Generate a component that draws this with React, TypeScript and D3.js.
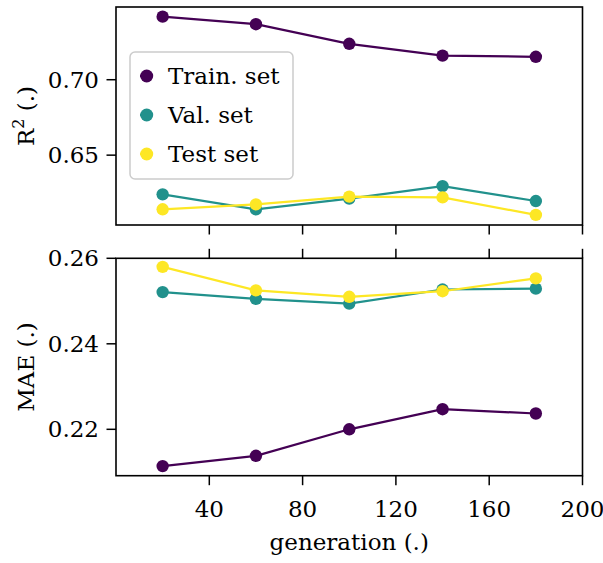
import React from "react";
import * as d3 from "d3";

const generations = [20, 60, 100, 140, 180];
const r2Train = [0.7418, 0.7368, 0.7238, 0.716, 0.7152];
const r2Val = [0.624, 0.6141, 0.6212, 0.6295, 0.6196];
const r2Test = [0.6141, 0.6174, 0.6225, 0.622, 0.6104];
const maeTrain = [0.2114, 0.2138, 0.22, 0.2247, 0.2237];
const maeVal = [0.2521, 0.2505, 0.2494, 0.2527, 0.2529];
const maeTest = [0.258, 0.2525, 0.251, 0.2523, 0.2553];
const xTicks = [40, 80, 120, 160, 200];
const r2Ticks = [0.65, 0.7];
const maeTicks = [0.22, 0.24, 0.26];
const seriesNames = ["Train. set", "Val. set", "Test set"];
const colors = ["#440154", "#21918c", "#fde725"];

const FONT = "DejaVu Serif";
const FS = 23;

export default function App() {
  const left = 116, right = 582.5;
  const top1 = 7, bot1 = 225;
  const top2 = 258.3, bot2 = 475.7;
  const x = d3.scaleLinear().domain([0, 200]).range([left, right]);
  const y1 = d3.scaleLinear().domain([0.6037, 0.7482]).range([bot1, top1]);
  const y2 = d3.scaleLinear().domain([0.20915, 0.26]).range([bot2, top2]);

  const drawSeries = (ys: number[][], y: d3.ScaleLinear<number, number>, key: string) =>
    ys.map((vals, i) => {
      const line = d3
        .line<number>()
        .x((_, j) => x(generations[j]))
        .y((d) => y(d));
      return (
        <g key={key + i}>
          <path d={line(vals) || ""} fill="none" stroke={colors[i]} strokeWidth={2.2} />
          {vals.map((v, j) => (
            <circle key={j} cx={x(generations[j])} cy={y(v)} r={6.2} fill={colors[i]} />
          ))}
        </g>
      );
    });

  const tickLen = 9.5;

  return (
    <svg width={603} height={563} style={{ position: "absolute", left: 0, top: 0 }}>
      <rect width={603} height={563} fill="white" />
      <g fontFamily={FONT}>
        {r2Ticks.map((t) => (
          <g key={t}>
            <line x1={left - tickLen} x2={left} y1={y1(t)} y2={y1(t)} stroke="black" strokeWidth={1.5} />
            <text x={left - 17} y={y1(t)} dy="0.35em" textAnchor="end" fontSize={FS}>
              {d3.format(".2f")(t)}
            </text>
          </g>
        ))}
        {xTicks.map((t) => (
          <line key={t} x1={x(t)} x2={x(t)} y1={bot1} y2={bot1 + tickLen} stroke="black" strokeWidth={1.5} />
        ))}
        {drawSeries([r2Train, r2Val, r2Test], y1, "r2")}
        <rect x={left} y={top1} width={right - left} height={bot1 - top1} fill="none" stroke="black" strokeWidth={1.6} />
        <rect x={130} y={52} width={163} height={127} rx={5} fill="white" fillOpacity={0.8} stroke="#cccccc" strokeWidth={1.5} />
        {seriesNames.map((n, i) => (
          <g key={n}>
            <line x1={140} x2={153} y1={76 + i * 39} y2={76 + i * 39} stroke={colors[i]} strokeWidth={2.2} />
            <circle cx={146.7} cy={76 + i * 39} r={6.5} fill={colors[i]} />
            <text x={168} y={76 + i * 39} dy="0.35em" fontSize={FS}>
              {n}
            </text>
          </g>
        ))}
        <text transform={`translate(34, ${(top1 + bot1) / 2}) rotate(-90)`} textAnchor="middle" fontSize={FS}>
          R<tspan dy={-10} fontSize={16}>2</tspan>
          <tspan dy={10}> (.)</tspan>
        </text>
      </g>
      <g fontFamily={FONT}>
        {maeTicks.map((t) => (
          <g key={t}>
            <line x1={left - tickLen} x2={left} y1={y2(t)} y2={y2(t)} stroke="black" strokeWidth={1.5} />
            <text x={left - 17} y={y2(t)} dy="0.35em" textAnchor="end" fontSize={FS}>
              {d3.format(".2f")(t)}
            </text>
          </g>
        ))}
        {xTicks.map((t) => (
          <g key={t}>
            <line x1={x(t)} x2={x(t)} y1={bot2} y2={bot2 + tickLen} stroke="black" strokeWidth={1.5} />
            <line x1={x(t)} x2={x(t)} y1={top2} y2={top2 - tickLen} stroke="black" strokeWidth={1.5} />
            <text x={x(t)} y={517} textAnchor="middle" fontSize={FS}>
              {t}
            </text>
          </g>
        ))}
        {drawSeries([maeTrain, maeVal, maeTest], y2, "mae")}
        <rect x={left} y={top2} width={right - left} height={bot2 - top2} fill="none" stroke="black" strokeWidth={1.6} />
        <text transform={`translate(34, ${(top2 + bot2) / 2}) rotate(-90)`} textAnchor="middle" fontSize={FS}>
          MAE (.)
        </text>
        <text x={(left + right) / 2} y={550} textAnchor="middle" fontSize={FS}>
          generation (.)
        </text>
      </g>
    </svg>
  );
}
